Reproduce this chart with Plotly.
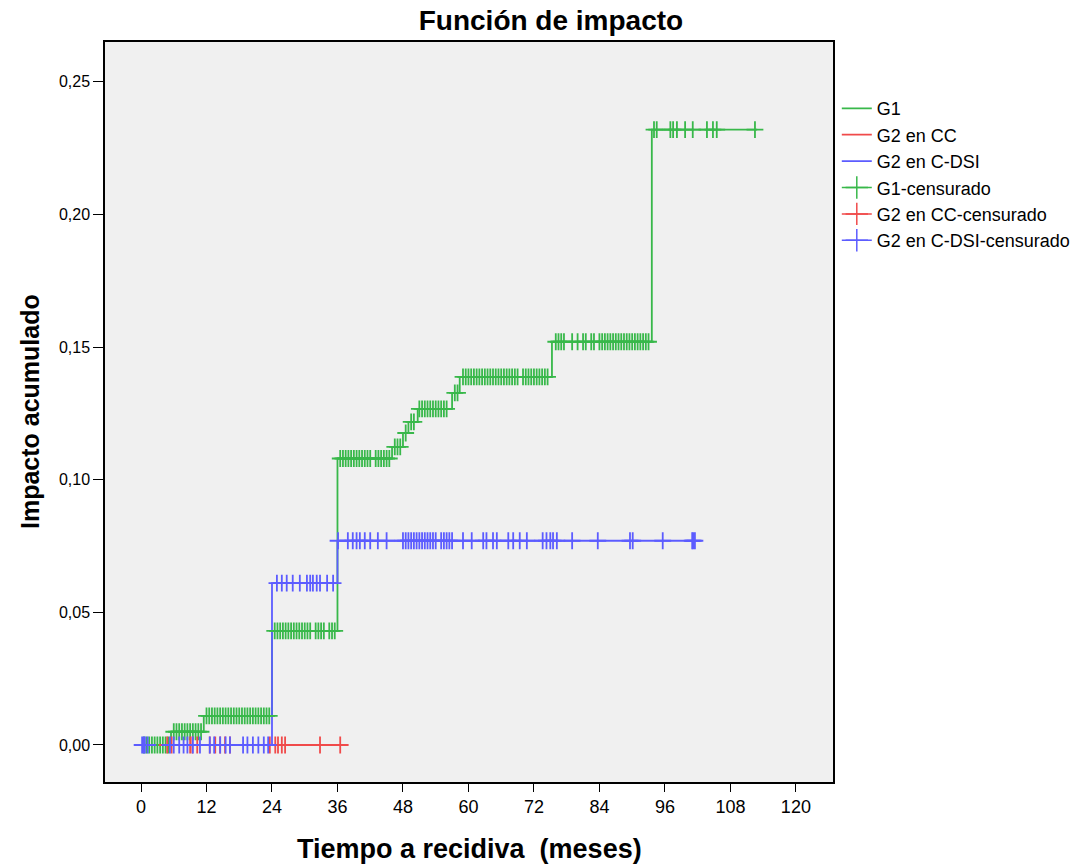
import plotly.graph_objects as go
import numpy as np

# ---- Data ----
x_ticks = [0, 12, 24, 36, 48, 60, 72, 84, 96, 108, 120]
y_ticks = [0.0, 0.05, 0.10, 0.15, 0.20, 0.25]

# Step functions (cumulative hazard)
g1_t = [0, 5.5, 11.5, 24, 36, 46, 48, 49, 50.7, 57, 58.4, 75.3, 93.6, 112.9]
g1_y = [0, 0.005, 0.011, 0.043, 0.108, 0.1124, 0.1176, 0.1218, 0.1267, 0.1327, 0.1388, 0.152, 0.232, 0.232]

cc_t = [0, 36.8]
cc_y = [0, 0]

dsi_t = [0, 24, 36, 101.5]
dsi_y = [0, 0.061, 0.077, 0.077]

# Censored times
g1_cens = [0.5, 1, 1.5, 2, 2.5, 3, 3.5, 4, 4.5, 5,
           6, 6.5, 7, 7.5, 8, 8.5, 9, 9.5, 10, 10.5, 11,
           12, 12.5, 13, 13.5, 14, 14.5, 15, 15.5, 16, 16.5, 17, 17.5, 18, 18.5, 19, 19.5,
           20, 20.5, 21, 21.5, 22, 22.5, 23, 23.5,
           24.5, 25, 25.5, 26, 26.5, 27, 27.5, 28, 28.5, 29, 29.5, 30, 30.5, 31,
           32, 32.5, 33, 33.5, 34.5, 35, 35.5,
           36.5, 37, 37.5, 38, 38.5, 39, 39.5, 40, 40.5, 41, 41.5, 42, 43, 43.5, 44, 44.5, 45, 45.5,
           46.5, 47, 47.5, 48.5, 49.5, 50,
           51, 51.5, 52, 52.5, 53, 53.5, 54, 54.5, 55, 55.5, 56, 57.5, 58,
           59, 59.5, 60, 60.5, 61, 61.5, 62, 62.5, 63, 63.5, 64, 64.5, 65, 65.5, 66, 66.5,
           67, 67.5, 68, 68.5, 69, 70, 70.5, 71, 71.5, 72, 72.5, 73, 73.5, 74, 74.5,
           76, 76.5, 77, 77.5, 79, 80, 81, 81.5, 82.5, 83, 84, 84.5, 85, 85.5, 86, 86.5,
           87, 87.5, 88, 88.5, 89, 89.5, 90, 90.5, 91, 91.5, 92, 92.5, 93,
           94, 94.5, 97, 97.5, 98.2, 99.7, 101.1, 103.7, 104.8, 105.5, 112.5]

cc_cens = [4.8, 5.6, 9, 9.4, 10.3, 12.6, 13.6, 14.5, 15.4, 16.3, 23.6,
           24.6, 25.1, 25.8, 26.4, 32.8, 36.5]

dsi_cens = [0.2, 0.5, 0.7, 1.2, 5.3, 6, 7, 7.8, 8.5, 9.5, 10.8, 12.6, 13.4, 14.5, 15.5, 16.3,
            18.7, 19.5, 20.5, 21.5, 22.5, 23.3,
            24.9, 25.8, 26.7, 27.8, 29.1, 30.4, 31, 31.5, 32.2, 32.8, 34.1, 35.2,
            36.1, 37.9, 38.8, 39.5, 40.1, 41, 42, 43.4, 45,
            48, 48.5, 49, 49.5, 50, 50.5, 51, 51.5, 52, 52.5, 53, 53.5, 54, 55, 55.5, 56, 56.5, 57,
            59, 60.6, 62.7, 63.3, 64.5, 65.2, 67.3, 68.2, 69.4, 70.7,
            73.6, 74.3, 75, 75.5, 76.2, 79, 83.7, 89.6, 90.1, 95.6, 101, 101.2, 101.5]

names = ["G1", "G2 en CC", "G2 en C-DSI"]
colors = ["#38b84a", "#f04a4a", "#5c5cff"]


def step_val(ts, ys, x):
    idx = np.searchsorted(np.array(ts), x, side="right") - 1
    return [ys[i] for i in idx]


fig = go.Figure()

curves = [(g1_t, g1_y, g1_cens), (cc_t, cc_y, cc_cens), (dsi_t, dsi_y, dsi_cens)]

for (t, y, c), n, col in zip(curves, names, colors):
    fig.add_trace(go.Scatter(x=t, y=y, mode="lines", line=dict(color=col, width=1.8, shape="hv"),
                             name=n, showlegend=True))

for (t, y, c), n, col in zip(curves, names, colors):
    fig.add_trace(go.Scatter(x=c, y=step_val(t, y, c), mode="markers",
                             marker=dict(symbol="cross-thin", size=12, line=dict(color=col, width=1.8)),
                             name=n + "-censurado", showlegend=False))

for n, col in zip(names, colors):
    fig.add_trace(go.Scatter(x=[None], y=[None], mode="lines+markers",
                             line=dict(color=col, width=1.5),
                             marker=dict(symbol="cross-thin", size=16, line=dict(color=col, width=1.5)),
                             name=n + "-censurado", showlegend=True))

fig.update_layout(
    width=1091, height=865,
    paper_bgcolor="white", plot_bgcolor="#f0f0f0",
    separators=", ",
    margin=dict(l=105, r=258, t=42, b=83, autoexpand=False),
    font=dict(family="Liberation Sans, Arial, sans-serif", color="black", size=16),
    title=dict(text="<b>Función de impacto</b>", x=0.505, xanchor="center", y=0.977, yanchor="middle",
               font=dict(size=28, family="Liberation Sans, Arial, sans-serif")),
    legend=dict(x=0.767, xref="container", xanchor="left", y=0.935, yanchor="top",
                bgcolor="rgba(0,0,0,0)",
                font=dict(size=18), tracegroupgap=0, itemwidth=30),
    showlegend=True,
)

fig.update_xaxes(range=[-6.6, 126.8], tickmode="array", tickvals=x_ticks,
                 ticktext=[str(v) for v in x_ticks],
                 ticks="outside", ticklen=8, tickwidth=1.2, tickcolor="black",
                 showline=True, linecolor="black", linewidth=1.5, mirror=True,
                 showgrid=False, zeroline=False,
                 tickfont=dict(size=18))
fig.update_yaxes(range=[-0.01395, 0.265], tickmode="array", tickvals=y_ticks,
                 tickformat=".2f",
                 ticks="outside", ticklen=10, tickwidth=1.2, tickcolor="black",
                 showline=True, linecolor="black", linewidth=1.5, mirror=True,
                 showgrid=False, zeroline=False, tickfont=dict(size=16))

fig.add_annotation(text="<b>Tiempo a recidiva  (meses)</b>", xref="paper", yref="paper",
                   x=0.5, y=-0.0905, xanchor="center", yanchor="middle", showarrow=False,
                   font=dict(size=27))
fig.add_annotation(text="<b>Impacto acumulado</b>", xref="paper", yref="paper",
                   x=0, xshift=-75, y=0.5, xanchor="center", yanchor="middle", showarrow=False,
                   textangle=-90, font=dict(size=25))

fig.write_html("out.html", config={"displayModeBar": False},
               post_script="document.body.style.margin='0px';")
